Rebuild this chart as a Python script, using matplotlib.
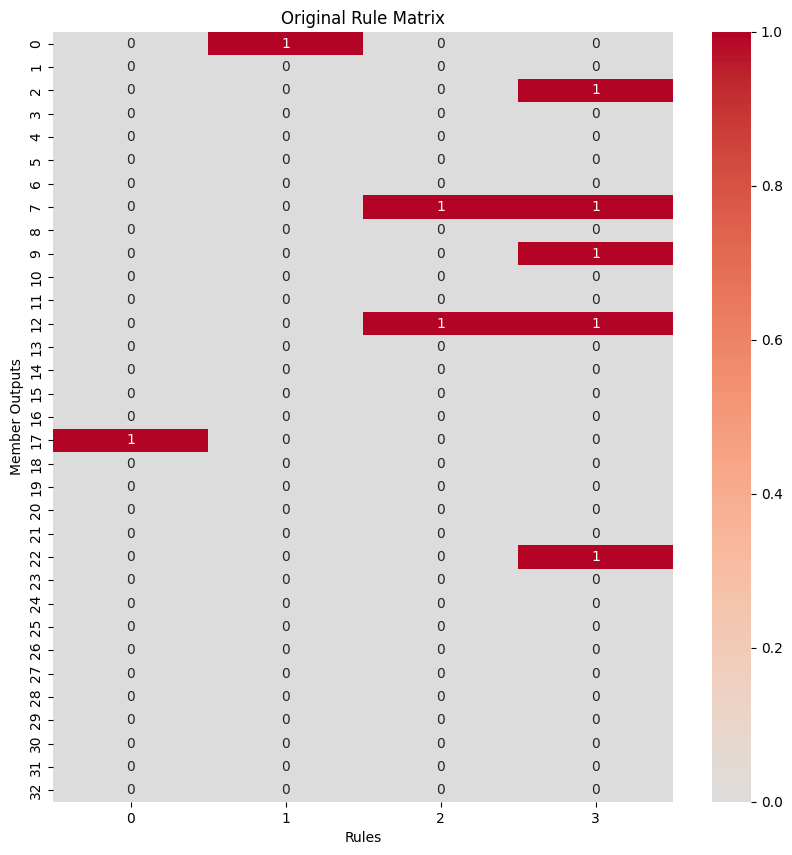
import numpy as np
import matplotlib
matplotlib.use("Agg")
import matplotlib.pyplot as plt
import seaborn as sns

# Rule matrix: 33 member outputs x 4 rules
n_outputs = 33
n_rules = 4
active_cells = [(0, 1), (2, 3), (7, 2), (7, 3), (9, 3),
                (12, 2), (12, 3), (17, 0), (22, 3)]

rule_matrix = np.zeros((n_outputs, n_rules))
for r, c in active_cells:
    rule_matrix[r, c] = 1

fig = plt.figure(figsize=(7.92, 8.55), dpi=100)
ax = fig.add_axes([0.0669, 0.062, 0.783, 0.9006])
cax = fig.add_axes([0.899, 0.062, 0.0492, 0.9006])

sns.heatmap(rule_matrix, ax=ax, cbar_ax=cax, cmap="coolwarm", center=0,
            vmin=0, vmax=1, annot=True, fmt="g")

ax.set_title("Original Rule Matrix")
ax.set_xlabel("Rules")
ax.set_ylabel("Member Outputs")

fig.savefig("out.png", dpi=100)
